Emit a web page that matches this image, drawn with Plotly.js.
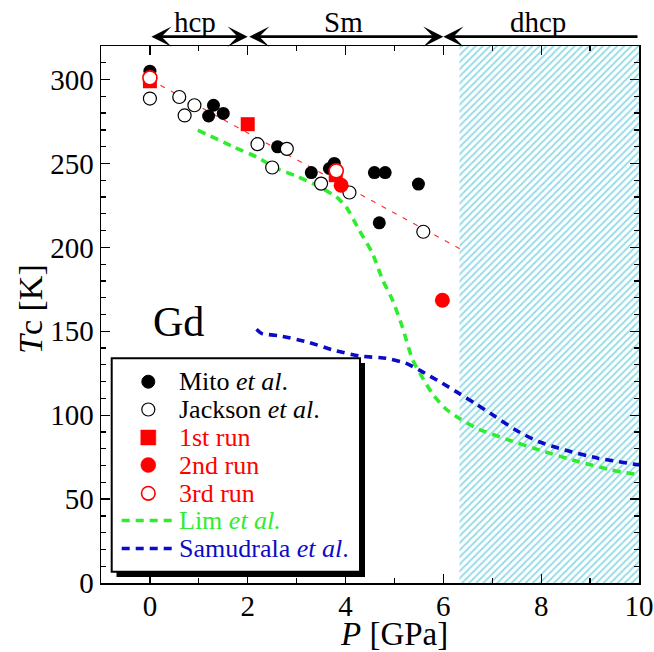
<!DOCTYPE html>
<html><head><meta charset="utf-8">
<script src="https://cdn.plot.ly/plotly-3.0.1.min.js"></script>
<style>html,body{margin:0;padding:0;background:#fff}#chart{width:654px;height:652px}</style>
</head><body><div id="chart"></div>
<script>
// ---- data ----
const mitoP   = [0, 1.30, 1.20, 1.50, 2.61, 3.30, 3.77, 3.67, 4.59, 4.81, 4.69, 5.49];
const mitoTc  = [305, 284.7, 278.3, 279.8, 259.9, 244.6, 250, 247, 244.6, 244.6, 214.6, 237.7];
const jacksonP  = [0, 0.60, 0.71, 0.91, 2.20, 2.50, 2.80, 3.50, 4.08, 5.59];
const jacksonTc = [288.7, 289.6, 278.6, 284.7, 261.5, 247.6, 258.7, 238, 232.7, 209.3];
const run1P  = [0, 2.0, 3.80];
const run1Tc = [299, 273.4, 243];
const run2P  = [3.91, 5.98];
const run2Tc = [237, 168.5];
const run3P  = [0, 3.81];
const run3Tc = [301, 245.6];
const fitP  = [0, 6.45];
const fitTc = [300, 197.4];
const limP  = [0.98, 1.71, 2.18, 2.59, 3.00, 3.40, 3.81, 4.01, 4.28, 4.55, 4.76, 4.96, 5.16, 5.37, 5.54, 5.77, 6.04, 6.32, 6.72, 7.33, 8.00, 8.75, 9.43, 10.0];
const limTc = [269.8, 259.9, 253.9, 247, 242.4, 237.1, 230.1, 224.2, 210.3, 196.4, 180.5, 168.6, 152.7, 133, 124, 113, 104, 98.2, 91.7, 85.3, 78.9, 72.4, 67.4, 64.5];
const samP  = [2.18, 2.28, 2.66, 3.20, 3.74, 4.28, 4.83, 5.23, 5.50, 5.98, 6.32, 6.65, 7.06, 7.47, 7.94, 8.48, 9.16, 10.0];
const samTc = [151.2, 148.8, 147.2, 143.8, 138.9, 135.3, 133.9, 131, 127, 119, 113, 107, 99.2, 91.3, 84.3, 79.3, 74.4, 70.4];
const dhcpRegionP  = [6.33, 10, 10, 6.33, 6.33];
const dhcpRegionTc = [0, 0, 320, 320, 0];
const phaseNames = ['hcp', 'Sm', 'dhcp'];
const phaseFrom  = [0, 2, 6];
const phaseTo    = [2, 6, 10];
const phaseLabelP = [0.93, 3.96, 7.94];
const legendLabels = ['Mito <i>et al</i>.', 'Jackson <i>et al</i>.', '1st run', '2nd run', '3rd run', 'Lim <i>et al.</i>', 'Samudrala <i>et al</i>.'];
const sampleLabel = 'Gd';

// ---- styling ----
const FONT = '"Liberation Serif", "Times New Roman", Times, serif';
const RED = '#ff0000', GREEN = '#2fec2f', BLUE = '#0b0bc8';
const L = 101, R = 15, T = 46, B = 69, W = 654, H = 652;
const pw = W - L - R, ph = H - T - B;
const px = v => (v - L) / pw;          // pixel -> paper x
const py = v => (H - B - v) / ph;      // pixel -> paper y

const traces = [
  {x: dhcpRegionP, y: dhcpRegionTc, type: 'scatter', mode: 'lines', fill: 'toself',
   fillcolor: 'rgba(0,0,0,0)', line: {width: 0},
   fillpattern: {shape: '/', fgcolor: '#92dbe6', bgcolor: '#ffffff', size: 5, solidity: 0.35},
   hoverinfo: 'skip', showlegend: false},
  {x: fitP, y: fitTc, type: 'scatter', mode: 'lines', line: {color: '#ff2a2a', width: 1.1, dash: '5px,7px'}, showlegend: false},
  {x: limP, y: limTc, type: 'scatter', mode: 'lines', line: {color: GREEN, width: 3.6, dash: '8px,6px', shape: 'spline', smoothing: 0.6}, showlegend: false},
  {x: samP, y: samTc, type: 'scatter', mode: 'lines', line: {color: BLUE, width: 3.6, dash: '8px,6px', shape: 'spline', smoothing: 0.6}, showlegend: false},
  {x: mitoP, y: mitoTc, type: 'scatter', mode: 'markers', marker: {symbol: 'circle', size: 13, color: 'black'}, showlegend: false},
  {x: jacksonP, y: jacksonTc, type: 'scatter', mode: 'markers', marker: {symbol: 'circle', size: 13, color: 'white', line: {color: 'black', width: 1.2}}, showlegend: false},
  {x: run1P, y: run1Tc, type: 'scatter', mode: 'markers', marker: {symbol: 'square', size: 14, color: RED}, showlegend: false},
  {x: run2P, y: run2Tc, type: 'scatter', mode: 'markers', marker: {symbol: 'circle', size: 15, color: RED}, showlegend: false},
  {x: run3P, y: run3Tc, type: 'scatter', mode: 'markers', marker: {symbol: 'circle', size: 14, color: 'white', line: {color: RED, width: 1.6}}, showlegend: false}
];

const annotations = [];
const shapes = [];
phaseNames.forEach((n, i) => {
  const both = i < phaseNames.length - 1;
  annotations.push({xref: 'x', yref: 'paper', axref: 'x', ayref: 'pixel',
    x: both ? phaseTo[i] : phaseFrom[i], y: py(36.7),
    ax: both ? phaseFrom[i] : phaseTo[i], ay: 0,
    text: '', showarrow: true, arrowhead: 3, startarrowhead: 3,
    arrowside: both ? 'end+start' : 'end', arrowsize: 1.2, startarrowsize: 1.2,
    arrowwidth: 2.8, arrowcolor: 'black', standoff: 0, startstandoff: 0});
  annotations.push({xref: 'x', yref: 'paper', x: phaseLabelP[i], y: py(22), text: n,
    showarrow: false, xanchor: 'center', yanchor: 'middle', font: {family: FONT, size: 29, color: 'black'}});
});
// axis titles
annotations.push({xref: 'x', yref: 'paper', x: 5, y: py(634), text: '<i>P</i> [GPa]', showarrow: false,
  xanchor: 'center', yanchor: 'middle', height: 32, valign: 'middle',
  font: {family: FONT, size: 33, color: 'black'}});
annotations.push({xref: 'paper', yref: 'paper', x: px(30), y: py(309), text: '<i>T</i>c [K]', showarrow: false,
  textangle: -90, xanchor: 'center', yanchor: 'middle', font: {family: FONT, size: 34, color: 'black'}});
annotations.push({xref: 'paper', yref: 'paper', x: px(178), y: py(322), text: sampleLabel, showarrow: false,
  xanchor: 'center', yanchor: 'middle', font: {family: FONT, size: 42, color: 'black'}});

// ---- hand-drawn legend ----
shapes.push({type: 'rect', xref: 'paper', yref: 'paper', x0: px(116.5), x1: px(365), y0: py(363), y1: py(577), fillcolor: 'black', line: {width: 0}, layer: 'above'});
shapes.push({type: 'rect', xref: 'paper', yref: 'paper', x0: px(111.7), x1: px(360), y0: py(358.3), y1: py(571.7), fillcolor: 'white', line: {color: 'black', width: 2}, layer: 'above'});
const rowY = [381.7, 409.5, 437.5, 465, 493.3, 520.5, 548.5];
const textColors = ['black', 'black', RED, RED, RED, GREEN, BLUE];
const symX = 148.3;
function symShape(type, r, y, fill, lineColor, lw) {
  return {type: type, xref: 'paper', yref: 'paper', xsizemode: 'pixel', ysizemode: 'pixel',
    xanchor: px(symX), yanchor: py(y), x0: -r, x1: r, y0: -r, y1: r,
    fillcolor: fill, line: {color: lineColor, width: lw}, layer: 'above'};
}
shapes.push(symShape('circle', 6.5, rowY[0], 'black', 'black', 1));
shapes.push(symShape('circle', 6.5, rowY[1], 'white', 'black', 1.2));
shapes.push(symShape('rect', 7.5, rowY[2], RED, RED, 0.5));
shapes.push(symShape('circle', 7.5, rowY[3], RED, RED, 0.5));
shapes.push(symShape('circle', 6.8, rowY[4], 'white', RED, 1.6));
shapes.push({type: 'line', xref: 'paper', yref: 'paper', x0: px(121.7), x1: px(175), y0: py(rowY[5]), y1: py(rowY[5]), line: {color: GREEN, width: 3.6, dash: '8px,6px'}, layer: 'above'});
shapes.push({type: 'line', xref: 'paper', yref: 'paper', x0: px(121.7), x1: px(175), y0: py(rowY[6]), y1: py(rowY[6]), line: {color: BLUE, width: 3.6, dash: '8px,6px'}, layer: 'above'});
legendLabels.forEach((t, i) => {
  annotations.push({xref: 'paper', yref: 'paper', x: px(177), y: py(rowY[i]), text: t, showarrow: false,
    xanchor: 'left', yanchor: 'middle', font: {family: FONT, size: 26, color: textColors[i]}});
});

const axisCommon = {showgrid: false, zeroline: false, showline: true, linecolor: 'black', linewidth: 1.5,
  mirror: 'allticks', ticks: 'inside', ticklen: 9, tickwidth: 1.3, tickcolor: 'black',
  tickfont: {family: FONT, size: 29, color: 'black'}};

const layout = {
  width: W, height: H, margin: {l: L, r: R, t: T, b: B},
  paper_bgcolor: 'white', plot_bgcolor: 'white', showlegend: false,
  xaxis: Object.assign({}, axisCommon, {range: [-1, 10], tick0: 0, dtick: 2, ticklabelstandoff: -3,
    minor: {dtick: 1, ticks: 'inside', ticklen: 5, tickwidth: 1.3, tickcolor: 'black', showgrid: false}}),
  yaxis: Object.assign({}, axisCommon, {range: [0, 320], tick0: 0, dtick: 50,
    minor: {dtick: 10, ticks: 'inside', ticklen: 5, tickwidth: 1.3, tickcolor: 'black', showgrid: false}}),
  annotations: annotations, shapes: shapes
};
Plotly.newPlot('chart', traces, layout, {displayModeBar: false, staticPlot: true});
</script></body></html>
